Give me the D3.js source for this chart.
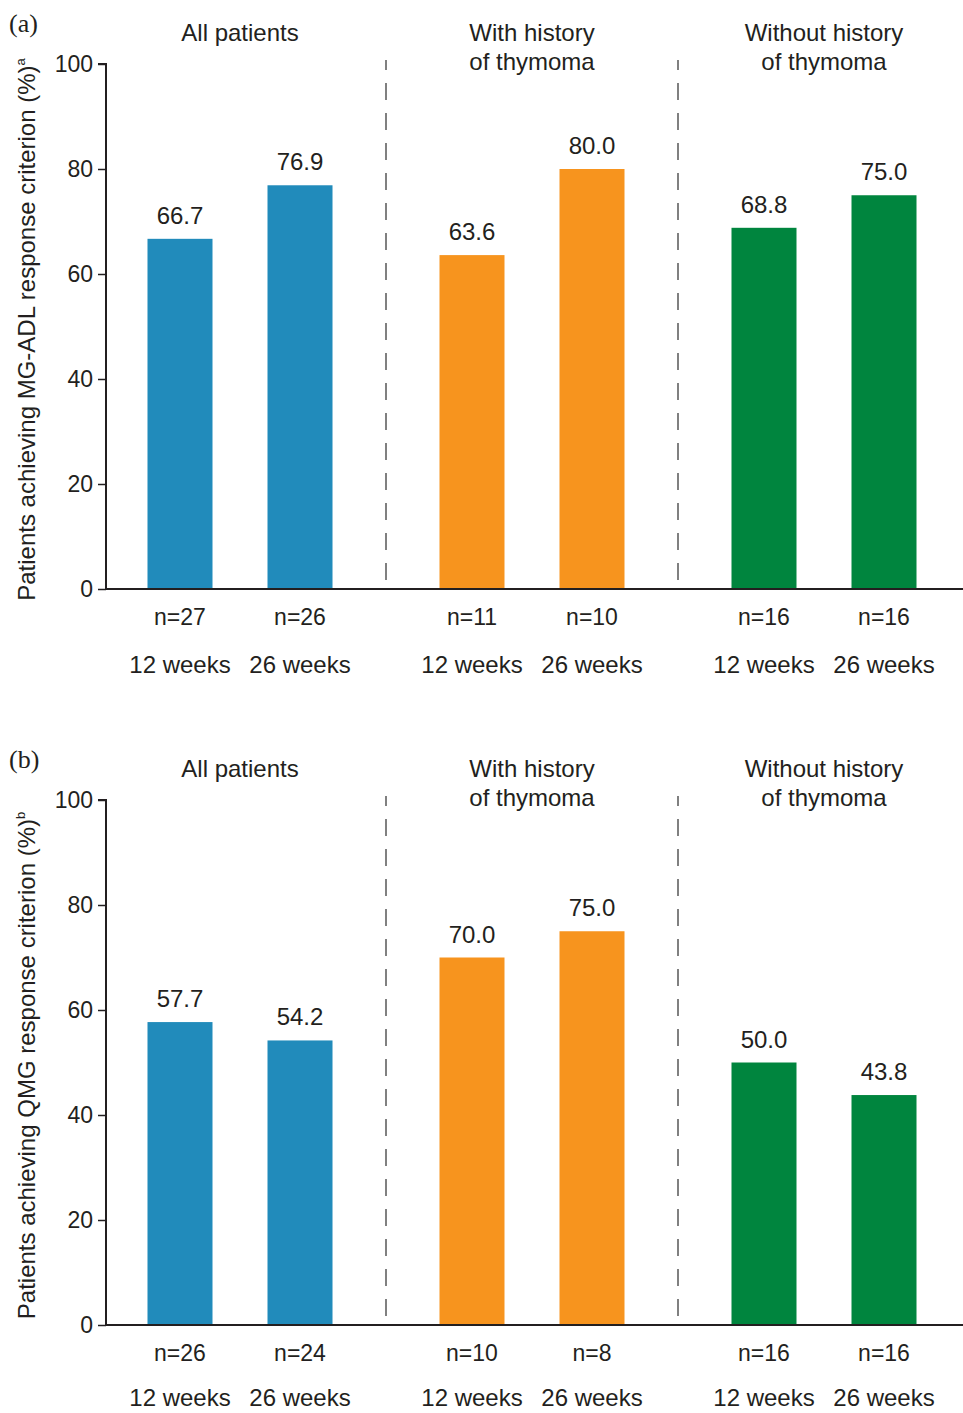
<!DOCTYPE html>
<html>
<head>
<meta charset="utf-8">
<script src="https://cdn.jsdelivr.net/npm/d3@7"></script>
<style>
  html, body { margin: 0; padding: 0; background: #fff; }
  svg { display: block; }
  text { font-family: "Liberation Sans", Arial, Helvetica, sans-serif; fill: #231f20; }
</style>
</head>
<body>
<svg id="chart" width="963" height="1413"></svg>
<script>
// ---- Data ----
const groups = ["All patients", "With history of thymoma", "Without history of thymoma"];
const groupTitleLines = [["All patients"], ["With history", "of thymoma"], ["Without history", "of thymoma"]];
const timepoints = ["12 weeks", "26 weeks"];
const groupColors = ["#218bbb", "#f7941e", "#00853e"];
const yTicks = [0, 20, 40, 60, 80, 100];

const mgadlValues = [66.7, 76.9, 63.6, 80.0, 68.8, 75.0];
const mgadlN = [27, 26, 11, 10, 16, 16];
const qmgValues = [57.7, 54.2, 70.0, 75.0, 50.0, 43.8];
const qmgN = [26, 24, 10, 8, 16, 16];

const panels = [
  { tag: "(a)", label: "Patients achieving MG-ADL response criterion (%)", sup: "a", values: mgadlValues, ns: mgadlN, top: 64 },
  { tag: "(b)", label: "Patients achieving QMG response criterion (%)", sup: "b", values: qmgValues, ns: qmgN, top: 800 }
];

// ---- Drawing ----
const svg = d3.select("#chart");
const plotH = 525;
const axisX = 106;

const xGroup = d3.scaleBand().domain(groups).range([94, 970]).paddingInner(0).paddingOuter(0);
const xTime = d3.scaleBand().domain(timepoints).range([0, xGroup.bandwidth()])
  .paddingInner(0.4583).paddingOuter(0.4458);

panels.forEach(p => {
  const g = svg.append("g");
  const y = d3.scaleLinear().domain([0, 100]).range([p.top + plotH, p.top]);
  const y0 = y(0);

  // panel tag
  g.append("text").attr("x", 9).attr("y", p.top - 32)
    .style("font-family", "'Liberation Serif', 'Times New Roman', serif")
    .style("font-size", "26px").text(p.tag);

  // y axis
  const yAxis = d3.axisLeft(y).tickValues(yTicks).tickSize(8).tickPadding(5).tickFormat(d3.format("d"));
  const ya = g.append("g").attr("transform", `translate(${axisX},0)`).call(yAxis);
  ya.select(".domain").attr("stroke", "#231f20").attr("stroke-width", 2).attr("d", `M-8,${y(100)}H0V${y0}`);
  ya.selectAll(".tick line").attr("stroke", "#231f20").attr("stroke-width", 1.5);
  ya.selectAll(".tick text").style("font-size", "23px").attr("fill", "#231f20")
    .style("font-family", "'Liberation Sans', Arial, sans-serif");

  // y label
  const lbl = g.append("text")
    .attr("transform", `translate(35,${(y(0) + y(100)) / 2 + 3}) rotate(-90)`)
    .attr("text-anchor", "middle").style("font-size", "24px");
  lbl.append("tspan").text(p.label);
  lbl.append("tspan").attr("dy", -10).style("font-size", "13px").text(p.sup);

  // dashed separators
  groups.slice(1).forEach(gr => {
    g.append("line").attr("x1", xGroup(gr)).attr("x2", xGroup(gr))
      .attr("y1", y(100) - 4).attr("y2", y0)
      .attr("stroke", "#808080").attr("stroke-width", 2).attr("stroke-dasharray", "17,13")
      .attr("stroke-dashoffset", 7);
  });

  // bars
  const rows = [];
  groups.forEach((gr, gi) => timepoints.forEach((tp, ti) => {
    const i = gi * timepoints.length + ti;
    rows.push({ gr, gi, tp, v: p.values[i], n: p.ns[i] });
  }));

  g.selectAll("rect.bar").data(rows).enter().append("rect").attr("class", "bar")
    .attr("x", d => xGroup(d.gr) + xTime(d.tp))
    .attr("width", xTime.bandwidth())
    .attr("y", d => y(d.v))
    .attr("height", d => y0 - y(d.v))
    .attr("fill", d => groupColors[d.gi]);

  const cx = d => xGroup(d.gr) + xTime(d.tp) + xTime.bandwidth() / 2;

  g.selectAll("text.val").data(rows).enter().append("text").attr("class", "val")
    .attr("x", cx).attr("y", d => y(d.v) - 15).attr("text-anchor", "middle")
    .style("font-size", "24px").text(d => d3.format(".1f")(d.v));

  g.selectAll("text.n").data(rows).enter().append("text").attr("class", "n")
    .attr("x", cx).attr("y", y0 + 36).attr("text-anchor", "middle")
    .style("font-size", "23px").text(d => "n=" + d.n);

  g.selectAll("text.tp").data(rows).enter().append("text").attr("class", "tp")
    .attr("x", cx).attr("y", Math.min(y0 + 84, 1406)).attr("text-anchor", "middle")
    .style("font-size", "24px").text(d => d.tp);

  // x axis line
  g.append("line").attr("x1", axisX).attr("x2", 963).attr("y1", y0).attr("y2", y0)
    .attr("stroke", "#231f20").attr("stroke-width", 2);

  // group titles
  groups.forEach((gr, gi) => {
    const t = g.append("text").attr("text-anchor", "middle").style("font-size", "24px")
      .attr("x", xGroup(gr) + xGroup.bandwidth() / 2);
    groupTitleLines[gi].forEach((line, li) => {
      t.append("tspan").attr("x", xGroup(gr) + xGroup.bandwidth() / 2)
        .attr("y", p.top - 23 + li * 29).text(line);
    });
  });
});
</script>
</body>
</html>
